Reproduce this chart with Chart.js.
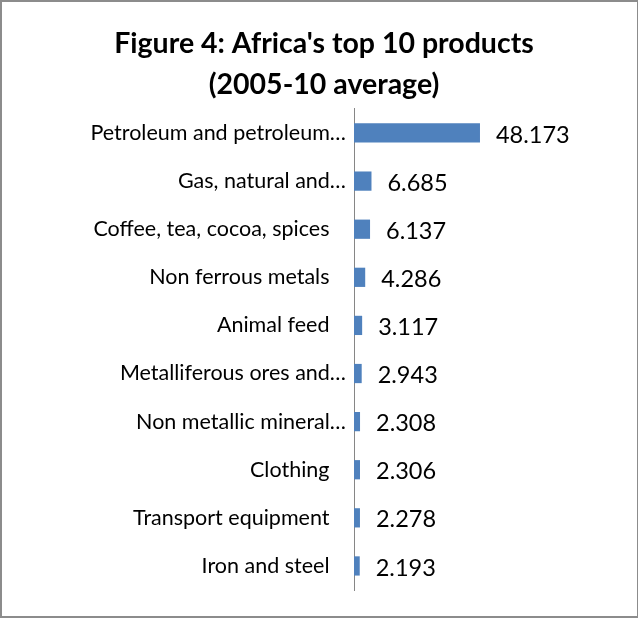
<!DOCTYPE html>
<html><head><meta charset="utf-8">
<script src="https://cdn.jsdelivr.net/npm/chart.js@4"></script>
<style>
html,body{margin:0;padding:0;background:#fff;}
#c{position:absolute;left:0;top:0;}
#frame{position:absolute;left:0;top:0;width:635px;height:614px;border:2px solid #8c8c8c;border-right-width:1px;pointer-events:none;}
</style></head>
<body>
<canvas id="c" width="638" height="618"></canvas>
<div id="frame"></div>
<script>
const categories = [
  "Petroleum and petroleum…",
  "Gas, natural and…",
  "Coffee, tea, cocoa, spices",
  "Non ferrous metals",
  "Animal feed",
  "Metalliferous ores and…",
  "Non metallic mineral…",
  "Clothing",
  "Transport equipment",
  "Iron and steel"
];
const values = [48.173, 6.685, 6.137, 4.286, 3.117, 2.943, 2.308, 2.306, 2.278, 2.193];
const titleLines = ["Figure 4: Africa's top 10 products", "(2005-10 average)"];

const FONT = "Lato, 'Open Sans', sans-serif";

const valueLabels = {
  id: 'valueLabels',
  afterDatasetsDraw(chart) {
    const ctx = chart.ctx;
    const meta = chart.getDatasetMeta(0);
    const xs = chart.scales.x;
    ctx.save();
    ctx.font = "23.5px " + FONT;
    ctx.fillStyle = "#000";
    ctx.textAlign = "left";
    ctx.textBaseline = "middle";
    meta.data.forEach((bar, i) => {
      const v = values[i];
      ctx.fillText(v.toFixed(3), xs.getPixelForValue(v) + 16, bar.y + 2);
    });
    ctx.restore();
  }
};

new Chart(document.getElementById('c'), {
  type: 'bar',
  data: {
    labels: categories,
    datasets: [{
      data: values,
      backgroundColor: '#4F81BD',
      borderWidth: 0,
      categoryPercentage: 1,
      barPercentage: 0.4
    }]
  },
  options: {
    indexAxis: 'y',
    responsive: false,
    animation: false,
    layout: { padding: { left: 10, right: 0, top: 0, bottom: 28 } },
    plugins: {
      legend: { display: false },
      tooltip: { enabled: false },
      title: {
        display: true,
        text: titleLines,
        color: '#000',
        font: { family: FONT, size: 28.5, weight: 'bold', lineHeight: 1.42 },
        padding: { top: 24, bottom: 4 }
      }
    },
    scales: {
      x: {
        display: false,
        min: 0,
        max: 108.6
      },
      y: {
        grid: { display: false, drawTicks: false },
        border: { display: true, color: '#868686', width: 1 },
        ticks: {
          color: '#000',
          font: { family: FONT, size: 21.5 },
          padding: 8,
          callback: function(v, i) {
            const s = categories[i];
            return s.endsWith('…') ? s : s + '   ';
          }
        },
        afterFit(axis) { axis.width = 344; }
      }
    }
  },
  plugins: [valueLabels]
});
</script>
</body></html>
